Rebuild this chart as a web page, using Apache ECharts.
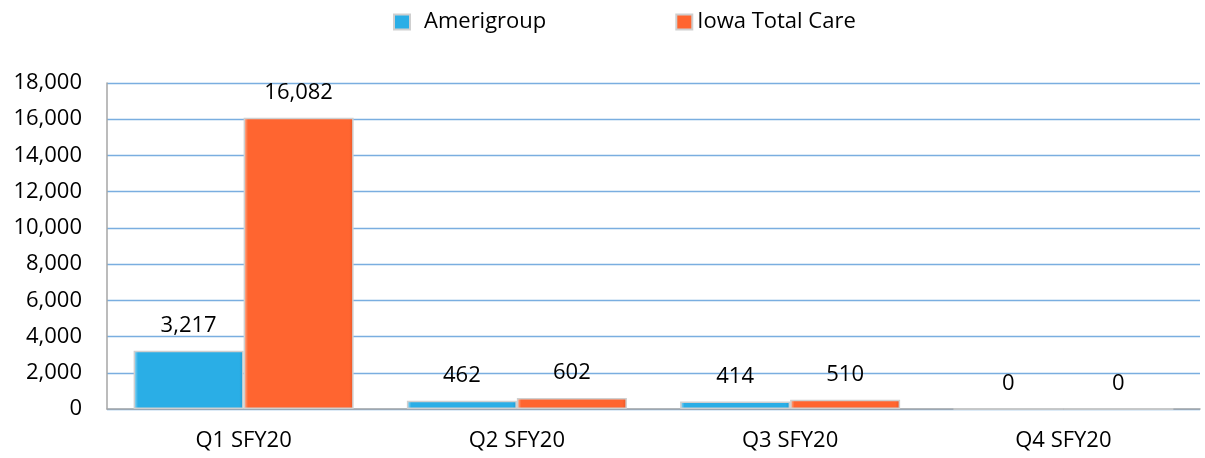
<!DOCTYPE html>
<html>
<head>
<meta charset="utf-8">
<script src="https://cdn.jsdelivr.net/npm/echarts@6/dist/echarts.min.js"></script>
<style>
  html, body { margin: 0; padding: 0; background: #fff; }
  #chart { width: 1205px; height: 458px; }
</style>
</head>
<body>
<div id="chart"></div>
<script>
// categories and values
const quarters = ['Q1 SFY20', 'Q2 SFY20', 'Q3 SFY20', 'Q4 SFY20']
const amerigroup = [3217, 462, 414, 0]
const iowaTotalCare = [16082, 602, 510, 0]
const yTicks = [0, 2000, 4000, 6000, 8000, 10000, 12000, 14000, 16000, 18000]

const font = 'Open Sans'
const fmt = v => v.toLocaleString('en-US')

// bar fill with a slight bevel look
function barFill(light, main, dark) {
    return new echarts.graphic.LinearGradient(0, 0, 1, 0, [
        { offset: 0, color: light },
        { offset: 0.04, color: main },
        { offset: 0.96, color: main },
        { offset: 1, color: dark }
    ])
}

let chart = echarts.init(document.getElementById('chart'))
let option = {
    animation: false,
    textStyle: { fontFamily: font },
    legend: {
        top: 6,
        left: 388,
        itemGap: 129,
        itemWidth: 16,
        itemHeight: 15,
        icon: 'rect',
        textStyle: { fontSize: 22, color: '#000', fontFamily: font },
        data: [
            { name: 'Amerigroup', textStyle: { padding: [0, 0, 0, 9] } },
            { name: 'Iowa Total Care' }
        ]
    },
    grid: {
        left: 107,
        right: 5,
        top: 83,
        bottom: 49,
        containLabel: false
    },
    xAxis: {
        type: 'category',
        data: quarters,
        axisTick: { show: false },
        axisLine: { lineStyle: { color: '#a6a6a6', width: 1.5 } },
        axisLabel: { color: '#000', fontSize: 22, margin: 21, fontFamily: font }
    },
    yAxis: {
        type: 'value',
        min: yTicks[0],
        max: yTicks[yTicks.length - 1],
        interval: 2000,
        axisTick: { show: false },
        axisLine: { show: true, lineStyle: { color: '#a6a6a6', width: 1.5 } },
        splitLine: { lineStyle: { color: '#7aaee0', width: 1.3 } },
        axisLabel: { color: '#000', fontSize: 22, margin: 25, formatter: fmt, fontFamily: font }
    },
    series: [{
        name: 'Amerigroup',
        type: 'bar',
        data: amerigroup,
        barWidth: 110,
        barGap: '0%',
        itemStyle: {
            color: barFill('#9fdcf5', '#2aaee6', '#1f9ad0'),
            borderColor: '#cfcfcf',
            borderWidth: 1.5
        },
        label: {
            show: true,
            position: 'top',
            distance: 14,
            color: '#000',
            fontSize: 22,
            fontFamily: font,
            formatter: p => fmt(p.value)
        }
    }, {
        name: 'Iowa Total Care',
        type: 'bar',
        data: iowaTotalCare,
        barWidth: 110,
        itemStyle: {
            color: barFill('#ffb79a', '#ff6530', '#e85524'),
            borderColor: '#cfcfcf',
            borderWidth: 1.5
        },
        label: {
            show: true,
            position: 'top',
            distance: 14,
            color: '#000',
            fontSize: 22,
            fontFamily: font,
            formatter: p => fmt(p.value)
        }
    }]
}
chart.setOption(option)
</script>
</body>
</html>
